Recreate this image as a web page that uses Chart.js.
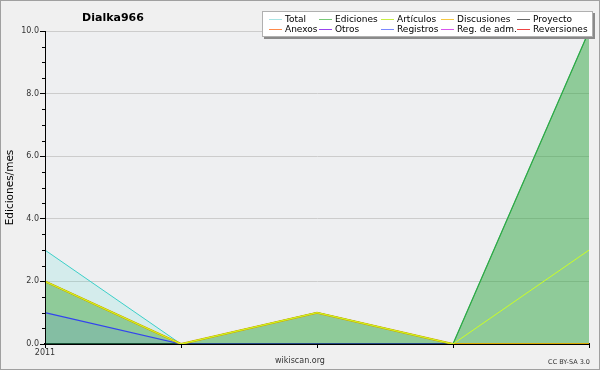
<!DOCTYPE html>
<html>
<head>
<meta charset="utf-8">
<script src="https://cdn.jsdelivr.net/npm/chart.js@4"></script>
<style>
  body { margin: 0; background: #f0f0f0; }
  #wrap { position: relative; width: 600px; height: 370px; font-family: "DejaVu Sans", sans-serif; }
  #frame { position: absolute; left: 0; top: 0; width: 600px; height: 370px; box-sizing: border-box; border: 1px solid #a0a0a0; pointer-events: none; }
  #title { position: absolute; left: 63px; width: 100px; top: 11px; text-align: center; font-weight: bold; font-size: 11px; color: #000; }
  #site { position: absolute; left: 250px; width: 100px; top: 356px; text-align: center; font-size: 8px; color: #333; }
  #lic { position: absolute; right: 10px; top: 358px; font-size: 6.5px; color: #333; }
  #legend { position: absolute; left: 262px; top: 11px; width: 331px; height: 26px; box-sizing: border-box; background: #fff; border: 1px solid #b0b0b0; box-shadow: 2px 2px 0 #8a8a8a; }
  .item { position: absolute; height: 10px; line-height: 10px; font-size: 9px; color: #000; white-space: nowrap; }
  .item i { display: inline-block; width: 13px; height: 0; border-top: 1px solid; vertical-align: middle; margin-right: 3px; }
</style>
</head>
<body>
<div id="wrap">
  <canvas id="chart" width="600" height="370"></canvas>
  <div id="title">Dialka966</div>
  <div id="legend"></div>
  <div id="site">wikiscan.org</div>
  <div id="lic">CC BY-SA 3.0</div>
  <div id="frame"></div>
</div>
<script>
// months shown on the x axis (only the first one is labelled)
const xLabels = ['2011', '', '', '', ''];

// edits per month
const total       = [3, 0, 1, 0, 10];
const ediciones   = [2, 0, 1, 0, 10];
const articulos   = [2, 0, 1, 0, 3];
const discusiones = [2, 0, 1, 0, 0];
const registros   = [1, 0, 0, 0, 0];

// legend entries (row by row)
const legendNames  = ['Total', 'Ediciones', 'Artículos', 'Discusiones', 'Proyecto',
                      'Anexos', 'Otros', 'Registros', 'Reg. de adm.', 'Reversiones'];
const legendColors = ['#a8e4e4', '#77c977', '#c8ee44', '#f5c842', '#666666',
                      '#ff8a4a', '#9a44ee', '#7a88ff', '#d855ee', '#ee4444'];

// build legend
const legendEl = document.getElementById('legend');
const colLeft = [6, 56, 118, 178, 254];
legendNames.forEach(function(name, i) {
    const item = document.createElement('div');
    item.className = 'item';
    item.style.left = colLeft[i % 5] + 'px';
    item.style.top = (i < 5 ? 2 : 12) + 'px';
    item.innerHTML = '<i style="border-color:' + legendColors[i] + '"></i>' + name;
    legendEl.appendChild(item);
});

// background of the plot area + short minor ticks on the y axis
const bgPlugin = {
    id: 'bg',
    beforeDraw(chart) {
        const c = chart.ctx, a = chart.chartArea;
        c.save();
        c.fillStyle = '#f0f0f0';
        c.fillRect(0, 0, chart.width, chart.height);
        c.fillStyle = '#eeeff1';
        c.fillRect(a.left, a.top, a.right - a.left, a.bottom - a.top);
        c.restore();
    },
    afterDraw(chart) {
        const c = chart.ctx, y = chart.scales.y;
        c.save();
        c.strokeStyle = '#000';
        c.lineWidth = 1;
        c.beginPath();
        for (let v = 0.5; v < 10; v += 0.5) {
            if (v % 2 === 0) continue;
            const py = Math.round(y.getPixelForValue(v)) + 0.5;
            c.moveTo(y.right - 3, py);
            c.lineTo(y.right, py);
        }
        // redraw y axis line over the fills
        c.moveTo(y.right + 0.5, y.top);
        c.lineTo(y.right + 0.5, y.bottom);
        c.stroke();
        c.restore();
    }
};

function line(label, data, color, width, fill, bg, order) {
    return {
        label: label,
        data: data,
        borderColor: color,
        borderWidth: width,
        backgroundColor: bg,
        fill: fill,
        pointRadius: 0,
        tension: 0,
        order: order
    };
}

new Chart(document.getElementById('chart'), {
    type: 'line',
    data: {
        labels: xLabels,
        datasets: [
            line('Total', total, '#3ccfc8', 1, 'origin', 'rgba(64,224,208,0.15)', 5),
            line('Ediciones', ediciones, '#33a840', 1.2, 'origin', 'rgba(40,155,30,0.4)', 4),
            line('Registros', registros, '#3344ee', 1.2, 'origin', 'rgba(40,80,255,0.1)', 3),
            line('Discusiones', discusiones, '#d9a800', 2, false, 'transparent', 2),
            line('Artículos', articulos, '#ccff22', 1, false, 'transparent', 1)
        ]
    },
    options: {
        responsive: false,
        animation: false,
        devicePixelRatio: 1,
        layout: { padding: { top: 31, right: 11, left: 0, bottom: 0 } },
        plugins: {
            legend: { display: false },
            tooltip: { enabled: false }
        },
        scales: {
            x: {
                type: 'category',
                offset: false,
                z: 1,
                afterFit: function(scale) { scale.height = 26; },
                grid: { drawOnChartArea: false, tickColor: '#000', tickLength: 4 },
                border: { color: '#000', width: 2 },
                ticks: {
                    autoSkip: false,
                    maxRotation: 0,
                    padding: 0,
                    color: '#333',
                    font: { family: 'DejaVu Sans', size: 8 }
                }
            },
            y: {
                min: 0,
                max: 10,
                afterFit: function(scale) { scale.width = 45; },
                grid: { color: '#cccccc', tickColor: '#000', tickLength: 5 },
                border: { color: '#000', width: 1 },
                ticks: {
                    stepSize: 2,
                    padding: 1,
                    color: '#333',
                    font: { family: 'DejaVu Sans', size: 8 },
                    callback: function(v) { return v.toFixed(1); }
                },
                title: {
                    display: true,
                    text: 'Ediciones/mes',
                    color: '#000',
                    padding: { top: 4, bottom: 0 },
                    font: { family: 'DejaVu Sans', size: 10.5 }
                }
            }
        }
    },
    plugins: [bgPlugin]
});
</script>
</body>
</html>
